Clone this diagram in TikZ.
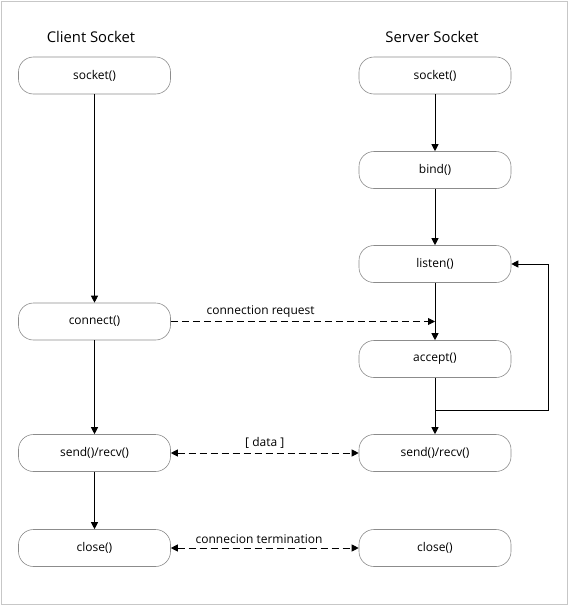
\documentclass[tikz,border=0pt]{standalone}
\usepackage{fontspec}
\setmainfont{Open Sans}
\usetikzlibrary{arrows.meta}
\tikzset{
  stepbox/.style={draw=black!45, line width=0.6pt, rounded corners=15pt,
    minimum width=152pt, minimum height=37pt, inner sep=0pt,
    font=\fontsize{12}{14}\selectfont},
  title/.style={font=\fontsize{14.8}{17}\selectfont, inner sep=0pt},
  tip/.style={Triangle[length=7pt,width=7pt]},
  flow/.style={line width=0.9pt, -{Triangle[length=7pt,width=7pt]}},
  msg/.style={line width=0.9pt, dash pattern=on 7pt off 4pt},
  lbl/.style={font=\fontsize{12}{14}\selectfont, inner sep=0pt, above=4pt}
}
\begin{document}
\begin{tikzpicture}[x=1pt,y=-1pt]
\useasboundingbox (0,0) rectangle (575,605);
\draw[black!22, line width=1pt] (1,1) rectangle (567.5,604);

\node[title] (ct) at (91,37) {Client Socket};
\node[title] (st) at (432,37) {Server Socket};

\node[stepbox] (csock) at (94.5,75.5) {socket()};
\node[stepbox] (conn) at (94.5,321.5) {connect()};
\node[stepbox] (csend) at (94.5,453) {send()/recv()};
\node[stepbox] (cclose) at (94.5,548) {close()};

\node[stepbox] (ssock) at (435,75.5) {socket()};
\node[stepbox] (bind) at (435,170) {bind()};
\node[stepbox] (listen) at (435,264) {listen()};
\node[stepbox] (accept) at (435,359) {accept()};
\node[stepbox] (ssend) at (435,453) {send()/recv()};
\node[stepbox] (sclose) at (435,548) {close()};

\draw[flow] (csock) -- (conn);
\draw[flow] (conn) -- (csend);
\draw[flow] (csend) -- (cclose);

\draw[flow] (ssock) -- (bind);
\draw[flow] (bind) -- (listen);
\draw[flow] (listen) -- (accept);
\draw[flow] (accept) -- (ssend);
\draw[flow] (accept.south) |- ++(113,33) |- (listen.east);

\coordinate (req) at (conn.east -| accept.north);
\draw[msg, -{Triangle[length=7pt,width=7pt]}] (conn.east) -- (req)
  node[lbl, pos=0.34] {connection request};
\draw[msg, {Triangle[length=7pt,width=7pt]}-{Triangle[length=7pt,width=7pt]}] (csend.east) -- (ssend.west)
  node[lbl, midway] {[ data ]};
\draw[msg, {Triangle[length=7pt,width=7pt]}-{Triangle[length=7pt,width=7pt]}] (cclose.east) -- (sclose.west)
  node[lbl, pos=0.47] {connecion termination};
\end{tikzpicture}
\end{document}
